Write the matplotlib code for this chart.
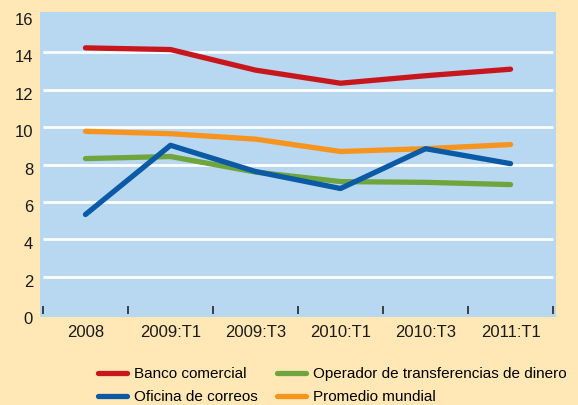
import matplotlib.pyplot as plt
import matplotlib.transforms as mtransforms

periods = ['2008', '2009:T1', '2009:T3', '2010:T1', '2010:T3', '2011:T1']
banco = [14.24, 14.15, 13.05, 12.35, 12.75, 13.1]
oficina = [5.33, 9.03, 7.63, 6.72, 8.85, 8.05]
operador = [8.32, 8.43, 7.6, 7.09, 7.05, 6.93]
promedio = [9.78, 9.65, 9.36, 8.7, 8.85, 9.07]

plt.rcParams['font.family'] = ['Liberation Sans', 'DejaVu Sans']

fig = plt.figure(figsize=(5.78, 4.05), dpi=100, facecolor='#FFE8B6')
ax = fig.add_axes([0.0692, 0.2173, 0.8928, 0.7527])
ax.set_facecolor('#B8D7F0')

x = range(len(periods))
for y in range(2, 16, 2):
    ax.hlines(y, -0.5, 5.5, color='white', lw=2, zorder=1)

ax.plot(x, banco, color='#C8161D', lw=3.8, solid_capstyle='round', label='Banco comercial', zorder=3)
ax.plot(x, oficina, color='#0A5AA5', lw=3.8, solid_capstyle='round', label='Oficina de correos', zorder=3)
ax.plot(x, operador, color='#6EA63D', lw=3.8, solid_capstyle='round', label='Operador de transferencias de dinero', zorder=2)
ax.plot(x, promedio, color='#F7941E', lw=3.8, solid_capstyle='round', label='Promedio mundial', zorder=2)

ax.set_xlim(-0.535, 5.535)
ax.set_ylim(-0.15, 16.15)
ax.set_yticks(range(0, 17, 2))
ax.tick_params(axis='y', length=0, pad=5, labelsize=12, colors='#1a1a1a')
# labels sit a little under the gridlines
off = mtransforms.ScaledTranslation(0, -4 / 100, fig.dpi_scale_trans)
for lab in ax.get_yticklabels():
    lab.set_transform(lab.get_transform() + off)

for s in ax.spines.values():
    s.set_visible(False)
# x ticks stand on the zero line
ax.spines['bottom'].set_visible(True)
ax.spines['bottom'].set_linewidth(0)
ax.spines['bottom'].set_position(('data', 0))

ax.set_xticks(list(x))
ax.set_xticklabels(periods)
ax.set_xticks([i - 0.5 for i in range(7)], minor=True)
ax.tick_params(axis='x', which='major', length=0, pad=7.5, labelsize=12, colors='#1a1a1a')
ax.tick_params(axis='x', which='minor', direction='in', length=5.5, width=1.3, color='#333333')

fig.legend(loc='upper left', bbox_to_anchor=(0.148, 0.124), ncol=2, frameon=False,
           fontsize=11, handlelength=1.9, handletextpad=0.45, columnspacing=1.3,
           labelspacing=0.6, borderpad=0.3)

fig.savefig('out.png', dpi=100, facecolor=fig.get_facecolor())
